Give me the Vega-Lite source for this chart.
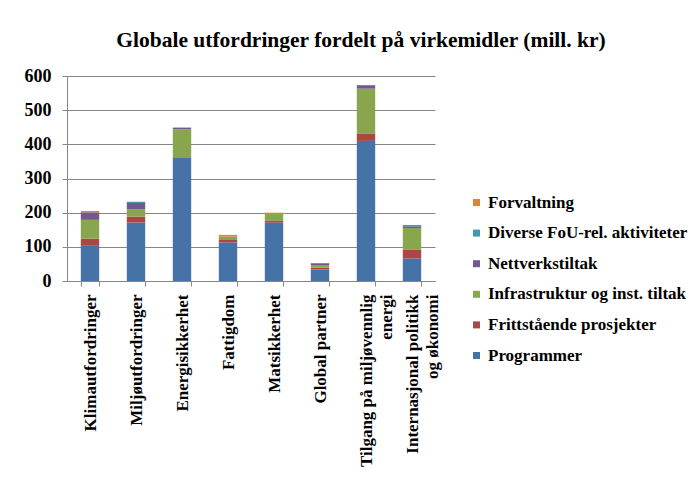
{
  "$schema": "https://vega.github.io/schema/vega-lite/v6.json",
  "width": 368,
  "height": 205,
  "autosize": {"type": "none"},
  "padding": {"left": 67, "top": 76, "right": 265, "bottom": 214},
  "background": "white",
  "title": {
    "text": "Globale utfordringer fordelt på virkemidler (mill. kr)",
    "font": "Liberation Serif",
    "fontSize": 21.5,
    "fontWeight": "bold",
    "color": "black",
    "anchor": "middle",
    "frame": "group",
    "baseline": "alphabetic",
    "dx": 110,
    "dy": 27,
    "offset": 26
  },
  "data": {
    "values": [
      {"kategori": "Klimautfordringer", "virkemiddel": "Programmer", "k": 1, "verdi": 103},
      {"kategori": "Klimautfordringer", "virkemiddel": "Frittstående prosjekter", "k": 2, "verdi": 21},
      {"kategori": "Klimautfordringer", "virkemiddel": "Infrastruktur og inst. tiltak", "k": 3, "verdi": 55},
      {"kategori": "Klimautfordringer", "virkemiddel": "Nettverkstiltak", "k": 4, "verdi": 22},
      {"kategori": "Klimautfordringer", "virkemiddel": "Diverse FoU-rel.  aktiviteter", "k": 5, "verdi": 0},
      {"kategori": "Klimautfordringer", "virkemiddel": "Forvaltning", "k": 6, "verdi": 4},
      {"kategori": "Miljøutfordringer", "virkemiddel": "Programmer", "k": 1, "verdi": 171},
      {"kategori": "Miljøutfordringer", "virkemiddel": "Frittstående prosjekter", "k": 2, "verdi": 18},
      {"kategori": "Miljøutfordringer", "virkemiddel": "Infrastruktur og inst. tiltak", "k": 3, "verdi": 21},
      {"kategori": "Miljøutfordringer", "virkemiddel": "Nettverkstiltak", "k": 4, "verdi": 18},
      {"kategori": "Miljøutfordringer", "virkemiddel": "Diverse FoU-rel.  aktiviteter", "k": 5, "verdi": 4},
      {"kategori": "Miljøutfordringer", "virkemiddel": "Forvaltning", "k": 6, "verdi": 0},
      {"kategori": "Energisikkerhet", "virkemiddel": "Programmer", "k": 1, "verdi": 360},
      {"kategori": "Energisikkerhet", "virkemiddel": "Frittstående prosjekter", "k": 2, "verdi": 0},
      {"kategori": "Energisikkerhet", "virkemiddel": "Infrastruktur og inst. tiltak", "k": 3, "verdi": 84},
      {"kategori": "Energisikkerhet", "virkemiddel": "Nettverkstiltak", "k": 4, "verdi": 5},
      {"kategori": "Energisikkerhet", "virkemiddel": "Diverse FoU-rel.  aktiviteter", "k": 5, "verdi": 0},
      {"kategori": "Energisikkerhet", "virkemiddel": "Forvaltning", "k": 6, "verdi": 0},
      {"kategori": "Fattigdom", "virkemiddel": "Programmer", "k": 1, "verdi": 113},
      {"kategori": "Fattigdom", "virkemiddel": "Frittstående prosjekter", "k": 2, "verdi": 7},
      {"kategori": "Fattigdom", "virkemiddel": "Infrastruktur og inst. tiltak", "k": 3, "verdi": 10},
      {"kategori": "Fattigdom", "virkemiddel": "Nettverkstiltak", "k": 4, "verdi": 0},
      {"kategori": "Fattigdom", "virkemiddel": "Diverse FoU-rel.  aktiviteter", "k": 5, "verdi": 0},
      {"kategori": "Fattigdom", "virkemiddel": "Forvaltning", "k": 6, "verdi": 5},
      {"kategori": "Matsikkerhet", "virkemiddel": "Programmer", "k": 1, "verdi": 171},
      {"kategori": "Matsikkerhet", "virkemiddel": "Frittstående prosjekter", "k": 2, "verdi": 5},
      {"kategori": "Matsikkerhet", "virkemiddel": "Infrastruktur og inst. tiltak", "k": 3, "verdi": 20},
      {"kategori": "Matsikkerhet", "virkemiddel": "Nettverkstiltak", "k": 4, "verdi": 0},
      {"kategori": "Matsikkerhet", "virkemiddel": "Diverse FoU-rel.  aktiviteter", "k": 5, "verdi": 0},
      {"kategori": "Matsikkerhet", "virkemiddel": "Forvaltning", "k": 6, "verdi": 4},
      {"kategori": "Global partner", "virkemiddel": "Programmer", "k": 1, "verdi": 34},
      {"kategori": "Global partner", "virkemiddel": "Frittstående prosjekter", "k": 2, "verdi": 5},
      {"kategori": "Global partner", "virkemiddel": "Infrastruktur og inst. tiltak", "k": 3, "verdi": 8},
      {"kategori": "Global partner", "virkemiddel": "Nettverkstiltak", "k": 4, "verdi": 5},
      {"kategori": "Global partner", "virkemiddel": "Diverse FoU-rel.  aktiviteter", "k": 5, "verdi": 0},
      {"kategori": "Global partner", "virkemiddel": "Forvaltning", "k": 6, "verdi": 0},
      {"kategori": "Tilgang på miljøvennlig energi", "virkemiddel": "Programmer", "k": 1, "verdi": 410},
      {"kategori": "Tilgang på miljøvennlig energi", "virkemiddel": "Frittstående prosjekter", "k": 2, "verdi": 22},
      {"kategori": "Tilgang på miljøvennlig energi", "virkemiddel": "Infrastruktur og inst. tiltak", "k": 3, "verdi": 131},
      {"kategori": "Tilgang på miljøvennlig energi", "virkemiddel": "Nettverkstiltak", "k": 4, "verdi": 10},
      {"kategori": "Tilgang på miljøvennlig energi", "virkemiddel": "Diverse FoU-rel.  aktiviteter", "k": 5, "verdi": 0},
      {"kategori": "Tilgang på miljøvennlig energi", "virkemiddel": "Forvaltning", "k": 6, "verdi": 0},
      {"kategori": "Internasjonal politikk og økonomi", "virkemiddel": "Programmer", "k": 1, "verdi": 66},
      {"kategori": "Internasjonal politikk og økonomi", "virkemiddel": "Frittstående prosjekter", "k": 2, "verdi": 25},
      {"kategori": "Internasjonal politikk og økonomi", "virkemiddel": "Infrastruktur og inst. tiltak", "k": 3, "verdi": 64},
      {"kategori": "Internasjonal politikk og økonomi", "virkemiddel": "Nettverkstiltak", "k": 4, "verdi": 5},
      {"kategori": "Internasjonal politikk og økonomi", "virkemiddel": "Diverse FoU-rel.  aktiviteter", "k": 5, "verdi": 4},
      {"kategori": "Internasjonal politikk og økonomi", "virkemiddel": "Forvaltning", "k": 6, "verdi": 0}
    ]
  },
  "mark": {"type": "bar"},
  "encoding": {
    "x": {
      "field": "kategori",
      "type": "nominal",
      "sort": null,
      "scale": {"paddingInner": 0.6, "paddingOuter": 0.3},
      "axis": {
        "title": null,
        "labelAngle": -90,
        "labelAlign": "right",
        "labelBaseline": "middle",
        "labelFont": "Liberation Serif",
        "labelFontSize": 17,
        "labelFontWeight": "bold",
        "labelColor": "black",
        "labelLineHeight": 20,
        "labelPadding": 8,
        "labelOverlap": false,
        "labelLimit": 0,
        "labelExpr": "datum.label == 'Tilgang på miljøvennlig energi' ? ['Tilgang på miljøvennlig', 'energi\u00a0\u00a0\u00a0\u00a0\u00a0\u00a0\u00a0\u00a0\u00a0\u00a0\u00a0\u00a0\u00a0\u00a0\u00a0'] : datum.label == 'Internasjonal politikk og økonomi' ? ['Internasjonal politikk', 'og økonomi\u00a0\u00a0\u00a0\u00a0\u00a0\u00a0\u00a0\u00a0\u00a0'] : datum.label",
        "tickBand": "extent",
        "tickSize": 5,
        "tickColor": "#868686",
        "domainColor": "#868686",
        "grid": false
      }
    },
    "y": {
      "field": "verdi",
      "type": "quantitative",
      "aggregate": "sum",
      "stack": "zero",
      "scale": {"domain": [0, 600], "nice": false},
      "axis": {
        "title": null,
        "values": [0, 100, 200, 300, 400, 500, 600],
        "labelFont": "Liberation Serif",
        "labelFontSize": 18,
        "labelFontWeight": "bold",
        "labelColor": "black",
        "labelPadding": 11,
        "tickSize": 5,
        "tickColor": "#868686",
        "domainColor": "#868686",
        "gridColor": "#868686",
        "grid": true
      }
    },
    "color": {
      "field": "virkemiddel",
      "type": "nominal",
      "scale": {
        "domain": ["Forvaltning", "Diverse FoU-rel.  aktiviteter", "Nettverkstiltak", "Infrastruktur og inst. tiltak", "Frittstående prosjekter", "Programmer"],
        "range": ["#DB843D", "#4198AF", "#71588F", "#89A54E", "#AA4643", "#4572A7"]
      },
      "legend": {
        "title": null,
        "orient": "none",
        "legendX": 401,
        "legendY": 118,
        "symbolType": "square",
        "symbolSize": 49,
        "symbolStrokeWidth": 0,
        "labelFont": "Liberation Serif",
        "labelFontSize": 17,
        "labelFontWeight": "bold",
        "labelColor": "black",
        "labelOffset": 3,
        "labelLimit": 0,
        "rowPadding": 12.6
      }
    },
    "order": {"field": "k", "type": "quantitative", "sort": "ascending"}
  },
  "config": {
    "view": {"stroke": null},
    "axis": {"domainWidth": 1, "tickWidth": 1, "gridWidth": 1}
  }
}
